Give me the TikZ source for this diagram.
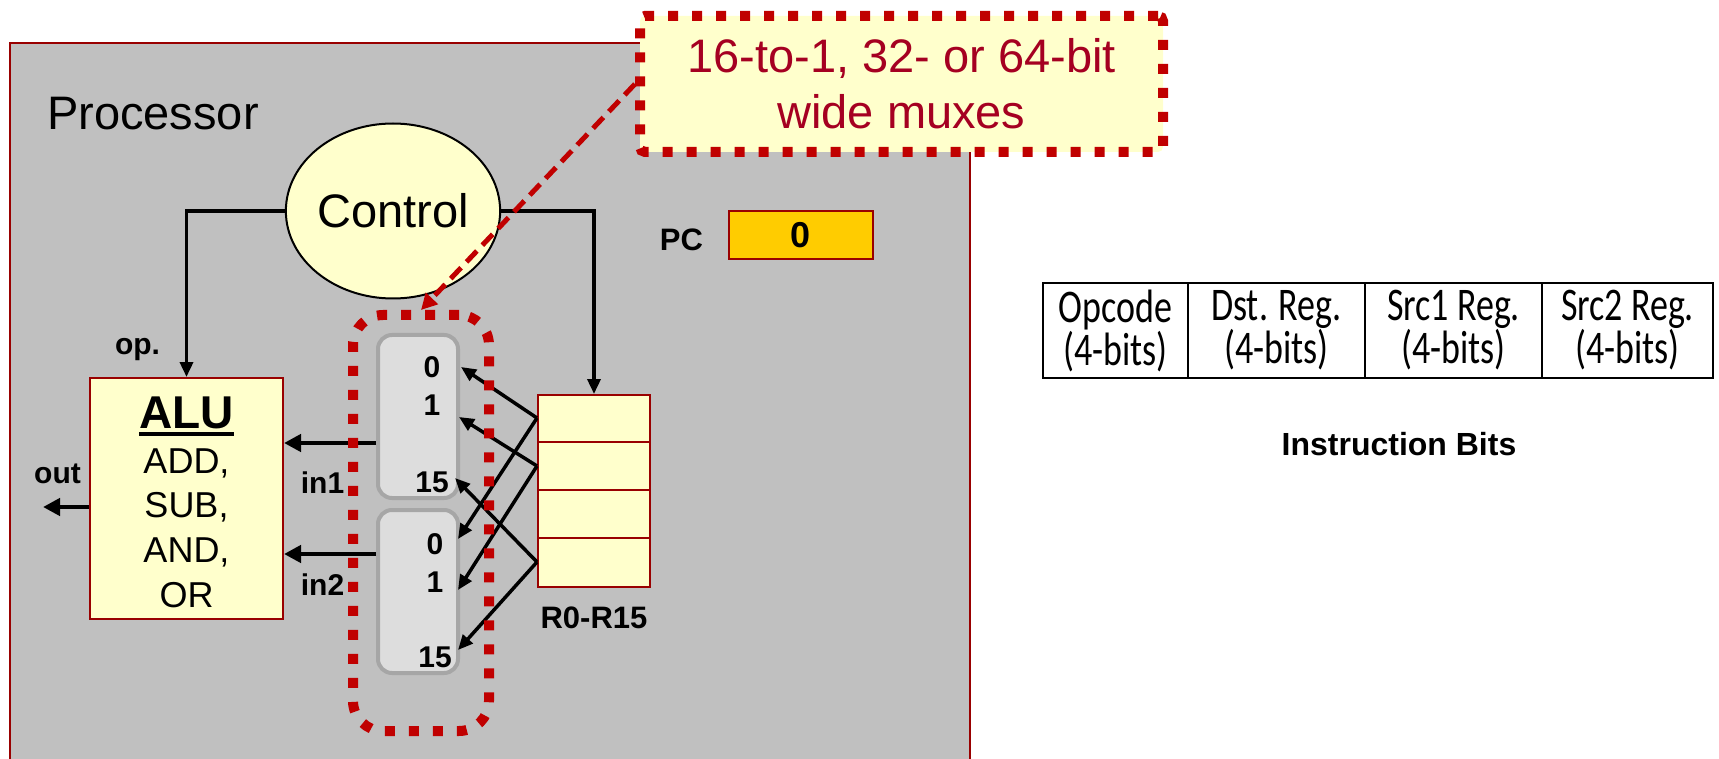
\documentclass[tikz,border=0pt]{standalone}
\usepackage{fontspec}
\setmainfont{Liberation Sans}
\newfontfamily\calibri{Carlito}
\usepackage{graphicx,xcolor}
\usepackage{tikz}
\usetikzlibrary{arrows.meta,shapes.geometric,calc,positioning}

\definecolor{procgray}{HTML}{C0C0C0}
\definecolor{boxred}{HTML}{990000}
\definecolor{paleyel}{HTML}{FFFFCC}
\definecolor{muxgray}{HTML}{DDDDDD}
\definecolor{muxedge}{HTML}{A6A6A6}
\definecolor{dotred}{HTML}{C00000}
\definecolor{notered}{HTML}{A50021}
\definecolor{pcgold}{HTML}{FFCC00}

\newcommand{\tallcal}[1]{\scalebox{1}[1.3]{#1}}

\tikzset{
  bigtxt/.style={font=\fontsize{47}{56}\selectfont, inner sep=0pt},
  tagtxt/.style={font=\fontsize{30}{36}\selectfont\bfseries, inner sep=0pt},
  blk/.style={draw=boxred, line width=2pt, fill=paleyel, inner sep=0pt},
  muxbox/.style={draw=muxedge, line width=4pt, fill=muxgray, rounded corners=14pt,
    minimum width=80pt, minimum height=163pt, inner sep=0pt},
  wire/.style={line width=3.5pt, -{Triangle[length=15pt,width=13pt]}},
  bus/.style={line width=4.5pt, -{Triangle[length=17pt,width=17pt]}},
  dotline/.style={draw=dotred, line width=10pt, dash pattern=on 10pt off 14pt},
  fieldbox/.style={draw, line width=2pt, minimum height=95pt, inner sep=0pt, align=center,
    font=\calibri\fontsize{36}{43}\selectfont}
}

\begin{document}
\begin{tikzpicture}[x=1pt, y=-1pt]
  \useasboundingbox (0,0) rectangle (1719,759);

  % processor area
  \fill[procgray] (10,43) rectangle (970,759);
  \draw[boxred, line width=2pt] (10,759) -- (10,43) -- (970,43) -- (970,759);
  \node[bigtxt, anchor=base west] (proclbl) at (47,130) {Processor};

  \node[ellipse, draw, line width=2pt, fill=paleyel, minimum width=192pt,
    minimum height=175pt, bigtxt] (ctrl) at (393,211) {Control};

  % ALU
  \node[blk, minimum width=193pt, minimum height=241pt] (alu) at (186.5,498.5) {};
  \node[font=\fontsize{46}{55}\selectfont\bfseries, anchor=base, inner sep=0pt]
    (alutitle) at (alu.north |- 0,428) {ALU};
  \draw[line width=4pt] ([yshift=-6pt]alutitle.base west) -- ([yshift=-6pt]alutitle.base east);
  \foreach \op [count=\i] in {{ADD,},{SUB,},{AND,},{OR}}
    \node[font=\fontsize{36}{43}\selectfont, anchor=base, inner sep=0pt]
      (op\i) at ($(alu.north)+(0,51.3+44.7*\i)$) {\op};
  \node[tagtxt, anchor=base] (oplbl) at (137.5,355) {op.};

  % register file
  \node[blk, minimum width=112pt, minimum height=192pt] (regs) at (594,491) {};
  \foreach \k in {1,2,3}
    \draw[boxred, line width=2pt] ($(regs.north west)+(0,48*\k)$) -- ($(regs.north east)+(0,48*\k)$);
  \node[font=\fontsize{31}{37}\selectfont\bfseries, anchor=base, inner sep=0pt]
    (regslbl) at (594,628) {R0-R15};
  \coordinate (r0) at ($(regs.north west)+(0,24)$);
  \coordinate (r1) at ($(regs.north west)+(0,72)$);
  \coordinate (r15) at ($(regs.north west)+(0,168)$);

  % control wires
  \draw[wire] (ctrl.west) -| (alu.north);
  \draw[wire] (ctrl.east) -| (regs.north);

  % muxes
  \node[muxbox] (mux1) at (418,416.5) {};
  \node[muxbox] (mux2) at (418,591.5) {};
  \foreach \n/\y/\t in {m1a/367/0, m1b/405/1, m1c/482/15}
    \node[tagtxt] (\n) at (432,\y) {\t};
  \foreach \n/\y/\t in {m2a/544/0, m2b/582/1, m2c/657/15}
    \node[tagtxt] (\n) at (435,\y) {\t};
  \coordinate (t1a) at (461,367);
  \coordinate (t1b) at (459,417);
  \coordinate (t1c) at (455,478);
  \coordinate (t2a) at (458,539);
  \coordinate (t2b) at (458,590);
  \coordinate (t2c) at (458,650);
  \foreach \src/\dst in {r0/t1a, r0/t2a, r1/t1b, r1/t2b, r15/t1c, r15/t2c}
    \draw[wire] (\src) -- (\dst);

  % ALU inputs and output
  \coordinate (in1src) at (376,443);
  \coordinate (in2src) at (376,554);
  \draw[bus] (in1src) -- (in1src -| alu.east);
  \draw[bus] (in2src) -- (in2src -| alu.east);
  \node[tagtxt, anchor=base] (in1lbl) at (322.5,493) {in1};
  \node[tagtxt, anchor=base] (in2lbl) at (322.5,595) {in2};
  \coordinate (outend) at (43,507);
  \draw[bus] (alu.west |- outend) -- (outend);
  \node[tagtxt, anchor=base] (outlbl) at (57.5,483) {out};

  % PC
  \node[font=\fontsize{31}{37}\selectfont\bfseries, inner sep=0pt] (pclbl) at (681.5,240) {PC};
  \node[draw=boxred, line width=2pt, fill=pcgold, minimum width=144pt, minimum height=48pt,
    inner sep=0pt, font=\fontsize{36}{43}\selectfont\bfseries] (pcbox) at (801,235) {0};

  % mux group and callout
  \node[dotline, rounded corners=30pt, minimum width=136pt, minimum height=416pt] (muxgrp) at (421,523) {};
  \node[dotline, fill=paleyel, rounded corners=5pt, minimum width=523pt, minimum height=136pt,
    align=center, text=notered, font=\fontsize{47}{56}\selectfont, inner sep=0pt]
    (note) at (901.5,84) {16-to-1, 32- or 64-bit\\wide muxes};
  \draw[dotred, line width=5pt, dash pattern=on 15pt off 8pt,
    -{Triangle[length=16pt,width=16pt]}] (note.west) -- (muxgrp.north);

  % instruction format
  \foreach \xl/\xr/\fname [count=\i] in {1043/1188/Opcode, 1188/1365/Dst. Reg.,
      1365/1542/Src1 Reg., 1542/1713/Src2 Reg.}
    \node[fieldbox, minimum width={(\xr-\xl)*1pt}] (fld\i) at ({(\xl+\xr)/2},330.5)
      {\tallcal{\fname}\\\tallcal{(4-bits)}};
  \node[font=\fontsize{32}{38}\selectfont\bfseries, anchor=base, inner sep=0pt]
    (instr) at (1399,455) {Instruction Bits};
\end{tikzpicture}
\end{document}
